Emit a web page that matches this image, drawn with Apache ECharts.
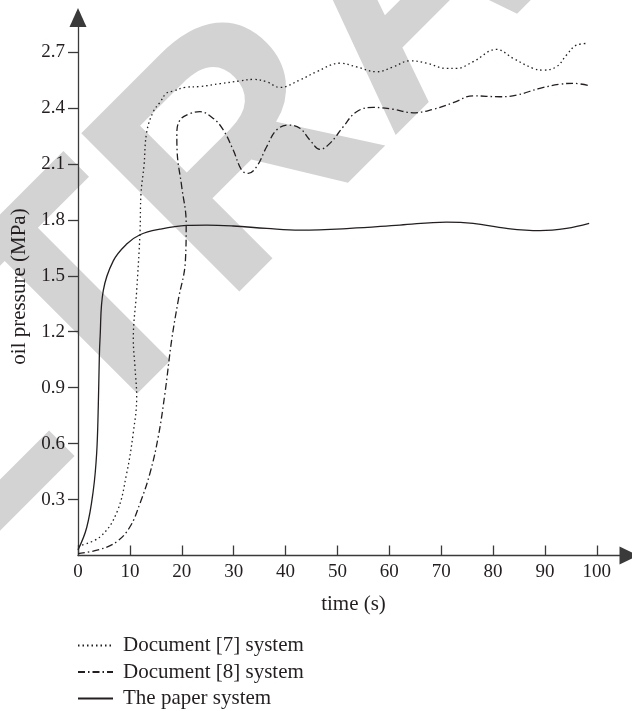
<!DOCTYPE html>
<html><head><meta charset="utf-8">
<script src="https://cdn.jsdelivr.net/npm/echarts@6/dist/echarts.min.js"></script>
<style>html,body{margin:0;padding:0;background:#fff}#c{width:632px;height:711px}</style>
</head><body><div id="c"></div>
<script>
const xTicks = [0, 10, 20, 30, 40, 50, 60, 70, 80, 90, 100];
const yTicks = [0.3, 0.6, 0.9, 1.2, 1.5, 1.8, 2.1, 2.4, 2.7];
const seriesNames = ['Document [7] system', 'Document [8] system', 'The paper system'];
const xName = 'time (s)';
const yName = 'oil pressure (MPa)';
const watermarkText = 'RETRACTED';

const doc7 = [[0,0.05],[4.24,0.10],[7.46,0.23],[9.38,0.44],[10.66,0.66],[11.31,0.85],[10.98,1.01],[10.66,1.16],[11.31,1.42],[11.95,1.73],[12.14,1.94],[12.72,2.09],[13.24,2.27],[14.51,2.38],[15.8,2.43],[17.09,2.48],[18.36,2.49],[20.62,2.51],[23.51,2.515],[27.36,2.53],[31.21,2.545],[33.78,2.553],[36.36,2.54],[38.92,2.51],[42.77,2.55],[45.99,2.594],[50.48,2.64],[53.7,2.62],[57.55,2.594],[60.75,2.62],[63.97,2.653],[67.19,2.64],[71.04,2.612],[72.97,2.612],[76.16,2.648],[80.67,2.714],[83.87,2.666],[87.73,2.612],[89.65,2.603],[92.23,2.621],[94.16,2.684],[96.09,2.737],[98.32,2.746]];

const doc8 = [[0,0.01],[4.24,0.033],[7.46,0.074],[10.02,0.154],[11.95,0.28],[13.87,0.441],[15.47,0.637],[16.76,0.87],[18.05,1.155],[19.33,1.37],[20.7,1.58],[20.85,1.78],[19.98,1.98],[19.1,2.17],[19.05,2.26],[19.65,2.335],[21.58,2.37],[23.51,2.38],[26.07,2.344],[28.0,2.282],[29.92,2.174],[31.54,2.067],[32.81,2.049],[34.43,2.085],[36.36,2.192],[38.28,2.282],[40.52,2.308],[42.77,2.291],[44.7,2.228],[46.63,2.178],[48.55,2.21],[51.12,2.299],[53.7,2.38],[56.9,2.403],[60.75,2.393],[64.6,2.374],[68.46,2.393],[72.31,2.428],[76.16,2.465],[81.31,2.46],[84.53,2.469],[89.02,2.505],[92.87,2.527],[95.43,2.532],[98.32,2.521]];

const paper = [[0,0.03],[1.68,0.15],[2.95,0.35],[3.6,0.55],[3.91,0.8],[4.1,1.05],[4.24,1.16],[4.87,1.42],[6.8,1.58],[9.38,1.67],[11.95,1.72],[15.8,1.75],[20.94,1.77],[24.8,1.772],[29.92,1.767],[36.36,1.754],[42.77,1.745],[52.41,1.754],[62.04,1.772],[71.04,1.788],[76.16,1.781],[82.6,1.754],[89.02,1.742],[94.16,1.754],[98.52,1.781]];

const ink = '#231f20';
const axisColor = '#3a3a3a';
const serif = '"Liberation Serif", "Times New Roman", serif';

const chart = echarts.init(document.getElementById('c'), null, {renderer: 'canvas'});
chart.setOption({
  animation: false,
  backgroundColor: '#fff',
  graphic: [{
    type: 'text', x: -299, y: 703, rotation: Math.PI / 4, z: -5, silent: true,
    style: { text: watermarkText, font: 'bold 325px "Liberation Sans", Arial, sans-serif', fill: '#d3d3d3', align: 'left', verticalAlign: 'middle' }
  }],
  grid: { left: 78, right: 3, top: 17.5, bottom: 155.5, containLabel: false },
  legend: {
    orient: 'vertical', left: 77, top: 635, padding: 0, itemWidth: 35, itemHeight: 14, itemGap: 5.5,
    selectedMode: false,
    itemStyle: { opacity: 0 },
    textStyle: { fontFamily: serif, fontSize: 21, color: ink, lineHeight: 21, padding: [0, 0, 0, 5] },
    data: seriesNames
  },
  xAxis: {
    type: 'value', min: 0, max: 106.2, interval: 10,
    name: xName, nameLocation: 'middle', nameGap: 38,
    nameTextStyle: { fontFamily: serif, fontSize: 21, color: ink },
    axisLine: { show: true, symbol: ['none', 'triangle'], symbolSize: [18, 19], lineStyle: { color: axisColor, width: 1.3 } },
    axisTick: { show: true, inside: true, length: 10, customValues: xTicks, lineStyle: { color: axisColor, width: 1.3 } },
    axisLabel: { customValues: xTicks, margin: 7, fontFamily: serif, fontSize: 19, color: ink },
    splitLine: { show: false }
  },
  yAxis: {
    type: 'value', min: 0, max: 2.885, interval: 0.3,
    name: yName, nameLocation: 'middle', nameGap: 35,
    nameTextStyle: { fontFamily: serif, fontSize: 21, color: ink },
    axisLine: { show: true, symbol: ['none', 'triangle'], symbolSize: [17, 19], lineStyle: { color: axisColor, width: 1.3 } },
    axisTick: { show: true, inside: false, length: 10, customValues: yTicks, lineStyle: { color: axisColor, width: 1.3 } },
    axisLabel: { customValues: yTicks, margin: 13, fontFamily: serif, fontSize: 19, color: ink, formatter: v => v.toFixed(1) },
    splitLine: { show: false }
  },
  series: [
    { name: seriesNames[0], type: 'line', data: doc7, smooth: 0.4, symbol: 'none', lineStyle: { color: ink, width: 1.3, type: [1.5, 3] }, itemStyle: { color: ink } },
    { name: seriesNames[1], type: 'line', data: doc8, smooth: 0.4, symbol: 'none', lineStyle: { color: ink, width: 1.3, type: [7, 3, 1.5, 3] }, itemStyle: { color: ink } },
    { name: seriesNames[2], type: 'line', data: paper, smooth: 0.4, symbol: 'none', lineStyle: { color: ink, width: 1.3 }, itemStyle: { color: ink } }
  ]
});
</script></body></html>
